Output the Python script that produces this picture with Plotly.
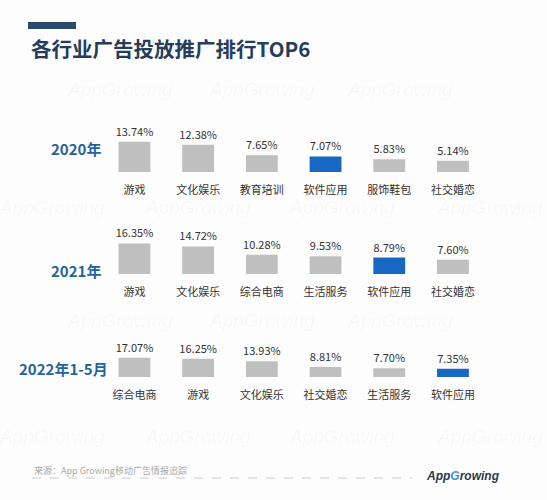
import plotly.graph_objects as go

# each row: industries ranked by share of ad placements
rows = ['2020年', '2021年', '2022年1-5月']

cats_2020 = ['游戏', '文化娱乐', '教育培训', '软件应用', '服饰鞋包', '社交婚恋']
vals_2020 = [13.74, 12.38, 7.65, 7.07, 5.83, 5.14]

cats_2021 = ['游戏', '文化娱乐', '综合电商', '生活服务', '软件应用', '社交婚恋']
vals_2021 = [16.35, 14.72, 10.28, 9.53, 8.79, 7.60]

cats_2022 = ['综合电商', '游戏', '文化娱乐', '社交婚恋', '生活服务', '软件应用']
vals_2022 = [17.07, 16.25, 13.93, 8.81, 7.70, 7.35]

W, H = 547, 500
FONT = 'Noto Sans CJK SC'
GRAY = '#bfbfbf'
BLUE = '#1668c2'
HIGHLIGHT = '软件应用'


def px(x):
    return x / W


def py(y):
    return 1 - y / H


fig = go.Figure()

# pixel layout of every row: bar baseline, pixel height of the full y range
row_specs = [
    dict(cats=cats_2020, vals=vals_2020, base=172, span=44, label_x=103, label_y=148),
    dict(cats=cats_2021, vals=vals_2021, base=274, span=37.4, label_x=103, label_y=270),
    dict(cats=cats_2022, vals=vals_2022, base=377, span=22.6, label_x=110, label_y=368),
]

x_left, x_right = 102.6, 484.8

for i, spec in enumerate(row_specs):
    n = str(i + 1) if i else ''
    colors = [BLUE if c == HIGHLIGHT else GRAY for c in spec['cats']]
    fig.add_trace(go.Bar(
        x=spec['cats'], y=spec['vals'],
        xaxis='x' + n, yaxis='y' + n,
        marker=dict(color=colors, line=dict(width=0)),
        width=0.5,
        text=['%.2f%%' % v for v in spec['vals']],
        textposition='outside',
        constraintext='none',
        cliponaxis=False,
        textfont=dict(family=FONT, size=11, color='#333333'),
        hoverinfo='skip',
        showlegend=False,
    ))
    fig.layout['xaxis' + n] = dict(
        domain=[px(x_left), px(x_right)],
        anchor='y' + n,
        type='category',
        showgrid=False, zeroline=False, showline=False,
        ticks='', ticklabelstandoff=10,
        tickfont=dict(family=FONT, size=11, color='#333333'),
        fixedrange=True,
    )
    fig.layout['yaxis' + n] = dict(
        domain=[py(spec['base']), py(spec['base'] - spec['span'])],
        anchor='x' + n,
        range=[0, 20],
        visible=False,
        fixedrange=True,
    )
    fig.add_annotation(
        text='<b>%s</b>' % rows[i], xref='paper', yref='paper',
        x=px(spec['label_x']), y=py(spec['label_y']),
        xanchor='right', yanchor='middle', showarrow=False,
        font=dict(family=FONT, size=15, color='#23649e'),
    )

# faint watermark tiles
marks = [(120, 90), (262, 90), (400, 90),
         (52, 208), (198, 208), (342, 208), (490, 208),
         (120, 320), (262, 320), (400, 320),
         (52, 436), (198, 436), (342, 436), (490, 436)]
for mx, my in marks:
    fig.add_annotation(
        text='<i>AppGrowing</i>', xref='paper', yref='paper',
        x=px(mx), y=py(my), xanchor='center', yanchor='middle', showarrow=False,
        font=dict(family='Liberation Sans', size=19, color='rgba(0,0,0,0.03)'),
    )

# title
fig.add_shape(type='rect', xref='paper', yref='paper',
              x0=px(28), x1=px(76), y0=py(29), y1=py(22),
              fillcolor='#2b4a6e', line=dict(width=0))
fig.add_annotation(
    text='<b>各行业广告投放推广排行TOP6</b>', xref='paper', yref='paper',
    x=px(29), y=py(48), xanchor='left', yanchor='middle', showarrow=False,
    font=dict(family=FONT, size=20.5, color='#253d5b'),
)

# source line and logo
fig.add_annotation(
    text='来源：App Growing移动广告情报追踪', xref='paper', yref='paper',
    x=px(32), y=py(470), xanchor='left', yanchor='middle', showarrow=False,
    font=dict(family=FONT, size=9, color='#aaaaaa'),
)
fig.add_shape(type='line', xref='paper', yref='paper',
              x0=px(32), x1=px(412), y0=py(478), y1=py(478),
              line=dict(color='#cccccc', width=1, dash='dash'))
fig.add_annotation(
    text='<b><i>App<span style="color:#4a90d9">G</span>rowing</i></b>',
    xref='paper', yref='paper',
    x=px(463), y=py(476), xanchor='center', yanchor='middle', showarrow=False,
    font=dict(family='Liberation Sans', size=12, color='#2b3a4a'),
)

fig.update_layout(
    width=W, height=H,
    margin=dict(l=0, r=0, t=0, b=0),
    paper_bgcolor='#fdfdfd', plot_bgcolor='rgba(0,0,0,0)',
    bargap=0.5,
)

# page body has a default 8px margin; drop it so the figure fills the window
fig.write_html('out.html', config={'displayModeBar': False},
               post_script="document.body.style.margin='0';")
